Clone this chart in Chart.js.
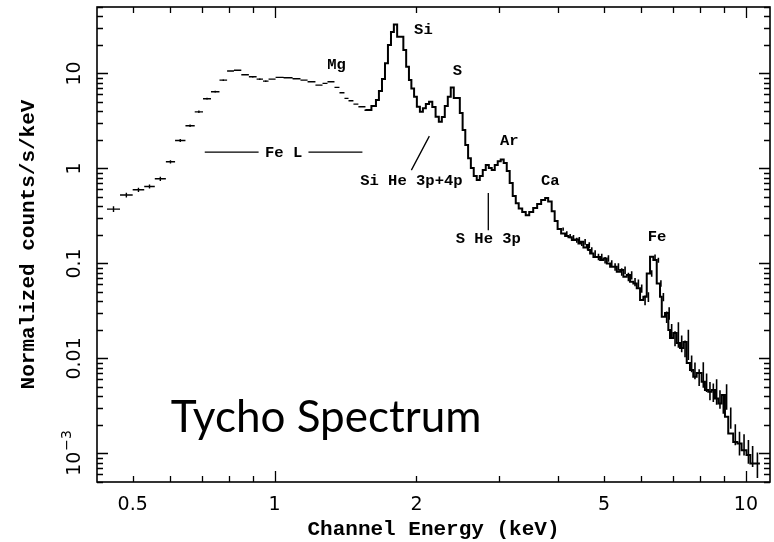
<!DOCTYPE html>
<html>
<head>
<meta charset="utf-8">
<title>Tycho Spectrum</title>
<script src="https://cdn.jsdelivr.net/npm/chart.js@4.4.1/dist/chart.umd.min.js"></script>
<style>
  html, body { margin: 0; padding: 0; background: #fff; }
  #spectrum { display: block; }
</style>
</head>
<body>
<canvas id="spectrum" width="774" height="542"></canvas>
<script>
// Low-energy channels, plotted as crosses (bin edges in keV, counts/s/keV, fractional error)
const binEdges = [0.441, 0.470, 0.500, 0.529, 0.557, 0.588, 0.615, 0.647, 0.677, 0.705, 0.733,
                  0.764, 0.793, 0.820, 0.850, 0.882, 0.916, 0.945, 0.971, 1.005, 1.045, 1.092,
                  1.135, 1.175, 1.221, 1.264, 1.295, 1.340, 1.373, 1.407, 1.435, 1.470, 1.506, 1.559];
const binCounts = [0.373, 0.524, 0.595, 0.646, 0.777, 1.174, 1.97, 2.81, 3.94, 5.40, 6.40,
                   8.50, 10.6, 10.8, 9.67, 9.21, 8.71, 8.30, 8.71, 9.08, 8.99, 8.77,
                   8.50, 8.16, 7.53, 7.85, 8.16, 7.12, 6.25, 5.46, 5.15, 4.75, 4.45];
const binErr = [0.07, 0.06, 0.05, 0.05, 0.05, 0.04, 0.035, 0.03, 0.03, 0.025, 0.025,
                0.02, 0.02, 0.02, 0.02, 0.02, 0.02, 0.02, 0.015, 0.015, 0.015, 0.015,
                0.015, 0.015, 0.015, 0.015, 0.015, 0.015, 0.015, 0.015, 0.015, 0.015, 0.015];

// Higher-energy channels, plotted as a histogram (left bin edges in keV, last entry closes the final bin)
const histEdges = [1.559, 1.605, 1.641, 1.665, 1.690, 1.715, 1.740, 1.766, 1.791, 1.820, 1.876,
                   1.902, 1.928, 1.951, 1.977, 2.004, 2.034, 2.064, 2.094, 2.127, 2.161, 2.196,
                   2.231, 2.264, 2.297, 2.331, 2.365, 2.400, 2.472, 2.506, 2.539, 2.574, 2.609,
                   2.646, 2.685, 2.725, 2.765, 2.806, 2.848, 2.889, 2.932, 2.975, 3.019, 3.063,
                   3.109, 3.154, 3.201, 3.249, 3.296, 3.353, 3.411, 3.470, 3.538, 3.607, 3.678,
                   3.751, 3.806, 3.872, 3.929, 3.986,
                   4.055, 4.135, 4.203, 4.273, 4.342, 4.413, 4.450, 4.522, 4.597, 4.633,
                   4.672, 4.748, 4.828, 4.906, 4.985, 5.068, 5.151, 5.235, 5.322, 5.409,
                   5.496, 5.588, 5.678, 5.770, 5.867, 5.963, 6.060, 6.161, 6.261, 6.363,
                   6.469, 6.574, 6.630, 6.736, 6.846, 6.902, 7.015, 7.133, 7.249, 7.367,
                   7.490, 7.610, 7.733, 7.862, 8.056, 8.187, 8.321, 8.460, 8.598, 8.738,
                   8.884, 9.028, 9.174, 9.400, 9.594, 9.792, 10.03, 10.22, 10.45, 10.71];
const histCounts = [4.18, 4.11, 4.53, 5.24, 6.51, 8.71, 12.8, 19.9, 27.2, 32.8, 24.3,
                    17.6, 11.74, 8.50, 6.95, 5.67, 4.45, 3.94, 4.31, 4.75, 5.02, 4.42,
                    3.49, 3.09, 3.47, 4.53, 5.67, 7.12, 5.50, 3.82, 2.53, 1.76, 1.28,
                    1.007, 0.830, 0.753, 0.830, 0.960, 1.083, 1.007, 0.960, 1.083, 1.19, 1.244,
                    1.137, 0.937, 0.700, 0.511, 0.431, 0.379, 0.347, 0.322, 0.347, 0.382, 0.421,
                    0.464, 0.487, 0.447, 0.355, 0.279,
                    0.230, 0.207, 0.194, 0.188, 0.176, 0.179, 0.162, 0.169, 0.147, 0.156,
                    0.138, 0.127, 0.117, 0.117, 0.1083, 0.1129, 0.100, 0.0921, 0.0921, 0.0816,
                    0.0850, 0.0723, 0.0753, 0.0640, 0.0616, 0.0546, 0.0411, 0.0445, 0.0785, 0.1174,
                    0.1083, 0.0616, 0.0445, 0.0274, 0.0300, 0.01986, 0.01636, 0.01846, 0.01449, 0.01284,
                    0.01484, 0.00892, 0.00753, 0.00640, 0.00700, 0.00567, 0.00464, 0.00445, 0.00464, 0.00379,
                    0.00336, 0.00411, 0.00243, 0.00162, 0.00132, 0.00127, 0.00108, 0.000960, 0.000785];
// fractional 1-sigma errors; below 4 keV the bars are hidden inside the line
const histErr = [...new Array(60).fill(0),
                 0.04, 0.05, 0.05, 0.06, 0.06, 0.06, 0.06, 0.07, 0.07, 0.07,
                 0.07, 0.08, 0.08, 0.08, 0.08, 0.08, 0.08, 0.09, 0.09, 0.09,
                 0.09, 0.1, 0.1, 0.1, 0.1, 0.1, 0.12, 0.12, 0.08, 0.06,
                 0.06, 0.08, 0.1, 0.14, 0.15, 0.16, 0.18, 0.3, 0.2, 0.2,
                 0.35, 0.2, 0.2, 0.2, 0.3, 0.22, 0.22, 0.22, 0.3, 0.22,
                 0.22, 0.3, 0.25, 0.25, 0.28, 0.25, 0.28, 0.25, 0.3];

const xTickLabels = [0.5, 1, 2, 5, 10];
const yTickLabels = [0.001, 0.01, 0.1, 1, 10];

// Line identifications: text and anchor in data units
const lineLabels = [
  { text: 'Mg', e: 1.353, v: 12.2 },
  { text: 'Si', e: 2.069, v: 28.6 },
  { text: 'S', e: 2.443, v: 10.6 },
  { text: 'Ar', e: 3.147, v: 1.94 },
  { text: 'Ca', e: 3.844, v: 0.735 },
  { text: 'Fe', e: 6.478, v: 0.189 },
  { text: 'Fe L', e: 1.045, v: 1.45 },
  { text: 'Si He 3p+4p', e: 1.951, v: 0.735 },
  { text: 'S He 3p', e: 2.841, v: 0.180 }
];
const markerLines = [
  { e0: 0.711, v0: 1.485, e1: 0.925, v1: 1.485 },
  { e0: 1.180, v0: 1.485, e1: 1.536, v1: 1.485 },
  { e0: 1.951, v0: 0.960, e1: 2.130, v1: 2.188 },
  { e0: 2.841, v0: 0.550, e1: 2.841, v1: 0.224 }
];

// crosses: horizontal bin bars and vertical error bars, broken by nulls
const crossPoints = [];
binCounts.forEach((c, i) => {
  const lo = binEdges[i], hi = binEdges[i + 1];
  const mid = Math.sqrt(lo * hi);
  crossPoints.push({ x: lo, y: c }, { x: hi, y: c }, { x: hi, y: null });
  crossPoints.push({ x: mid, y: c * (1 - binErr[i]) }, { x: mid, y: c * (1 + binErr[i]) }, { x: mid, y: null });
});

const histPoints = histCounts.map((c, i) => ({ x: histEdges[i], y: c }));
histPoints.push({ x: histEdges[histEdges.length - 1], y: histCounts[histCounts.length - 1] });

const errPoints = [];
histCounts.forEach((c, i) => {
  if (!histErr[i]) return;
  const mid = Math.sqrt(histEdges[i] * histEdges[i + 1]);
  errPoints.push({ x: mid, y: c * (1 - histErr[i]) }, { x: mid, y: c * (1 + histErr[i]) }, { x: mid, y: null });
});

function decadeTicks(min, max) {
  const out = [];
  for (let p = -4; p <= 2; p++) {
    for (let m = 1; m <= 9; m++) {
      const v = m * Math.pow(10, p);
      if (v >= min && v <= max) out.push({ v, major: m === 1 });
    }
  }
  return out;
}

const axisFrame = {
  id: 'axisFrame',
  afterDraw(chart) {
    const { ctx, chartArea: a, scales: { x, y } } = chart;
    ctx.save();
    ctx.strokeStyle = '#000';
    ctx.fillStyle = '#000';
    ctx.lineWidth = 1.6;
    ctx.strokeRect(a.left, a.top, a.right - a.left, a.bottom - a.top);

    ctx.lineWidth = 1.3;
    ctx.beginPath();
    decadeTicks(x.min, x.max).forEach(t => {
      const px = Math.round(x.getPixelForValue(t.v)) + 0.5;
      const len = t.major ? 11 : 6;
      ctx.moveTo(px, a.bottom); ctx.lineTo(px, a.bottom - len);
      ctx.moveTo(px, a.top); ctx.lineTo(px, a.top + len);
    });
    decadeTicks(y.min, y.max).forEach(t => {
      const py = Math.round(y.getPixelForValue(t.v)) + 0.5;
      const len = t.major ? 11 : 6;
      ctx.moveTo(a.left, py); ctx.lineTo(a.left + len, py);
      ctx.moveTo(a.right, py); ctx.lineTo(a.right - len, py);
    });
    ctx.stroke();

    // rotated y tick labels
    ctx.textBaseline = 'middle';
    yTickLabels.forEach(v => {
      const py = y.getPixelForValue(v);
      ctx.save();
      ctx.translate(75, py);
      ctx.rotate(-Math.PI / 2);
      ctx.font = '19px "DejaVu Sans"';
      if (v < 0.005) {
        const wMain = ctx.measureText('10').width;
        ctx.font = '14px "DejaVu Sans"';
        const wExp = ctx.measureText('\u22123').width;
        const x0 = -(wMain + wExp) / 2;
        ctx.textAlign = 'left';
        ctx.font = '19px "DejaVu Sans"';
        ctx.fillText('10', x0, 0);
        ctx.font = '14px "DejaVu Sans"';
        ctx.fillText('\u22123', x0 + wMain + 1, -8);
      } else {
        ctx.textAlign = 'center';
        ctx.fillText(String(v), 0, 0);
      }
      ctx.restore();
    });

    // line identifications
    ctx.lineWidth = 1.3;
    ctx.beginPath();
    markerLines.forEach(m => {
      ctx.moveTo(x.getPixelForValue(m.e0), y.getPixelForValue(m.v0));
      ctx.lineTo(x.getPixelForValue(m.e1), y.getPixelForValue(m.v1));
    });
    ctx.stroke();
    ctx.font = 'bold 15.5px "Liberation Mono"';
    ctx.textAlign = 'center';
    ctx.textBaseline = 'middle';
    lineLabels.forEach(l => {
      ctx.fillText(l.text, x.getPixelForValue(l.e), y.getPixelForValue(l.v));
    });

    ctx.font = '44px Lato';
    ctx.textAlign = 'left';
    ctx.textBaseline = 'alphabetic';
    ctx.fillText('Tycho Spectrum', x.getPixelForValue(0.602), y.getPixelForValue(0.001676));
    ctx.restore();
  }
};

new Chart(document.getElementById('spectrum'), {
  type: 'line',
  data: {
    datasets: [
      {
        label: 'binned',
        data: crossPoints,
        borderColor: '#000',
        borderWidth: 1.4,
        pointRadius: 0,
        spanGaps: false
      },
      {
        label: 'histogram',
        data: histPoints,
        borderColor: '#000',
        borderWidth: 2,
        pointRadius: 0,
        stepped: 'after'
      },
      {
        label: 'errors',
        data: errPoints,
        borderColor: '#000',
        borderWidth: 1.6,
        pointRadius: 0,
        spanGaps: false
      }
    ]
  },
  options: {
    responsive: false,
    devicePixelRatio: 1,
    animation: false,
    layout: { padding: { top: 7, right: 4, left: 0, bottom: 0 } },
    plugins: { legend: { display: false }, tooltip: { enabled: false } },
    elements: { line: { tension: 0 } },
    scales: {
      x: {
        type: 'logarithmic',
        min: 0.42,
        max: 11.25,
        grid: { display: false, drawTicks: false },
        border: { display: false },
        afterBuildTicks: s => { s.ticks = xTickLabels.map(v => ({ value: v })); },
        afterFit: s => { s.height = 60; },
        ticks: {
          autoSkip: false,
          maxRotation: 0,
          padding: 12,
          color: '#000',
          font: { family: 'DejaVu Sans', size: 19 },
          callback: v => String(v)
        },
        title: {
          display: true,
          text: 'Channel Energy (keV)',
          color: '#000',
          font: { family: 'Liberation Mono', size: 21, weight: 'bold' },
          padding: { top: 0, bottom: 0 }
        }
      },
      y: {
        type: 'logarithmic',
        min: 0.0005,
        max: 50,
        grid: { display: false, drawTicks: false },
        border: { display: false },
        afterBuildTicks: s => { s.ticks = yTickLabels.map(v => ({ value: v })); },
        afterFit: s => { s.width = 97; },
        ticks: { display: false },
        title: {
          display: true,
          text: 'Normalized counts/s/keV',
          color: '#000',
          font: { family: 'Liberation Mono', size: 21, weight: 'bold' },
          padding: { top: 16, bottom: 0 }
        }
      }
    }
  },
  plugins: [axisFrame]
});
</script>
</body>
</html>
